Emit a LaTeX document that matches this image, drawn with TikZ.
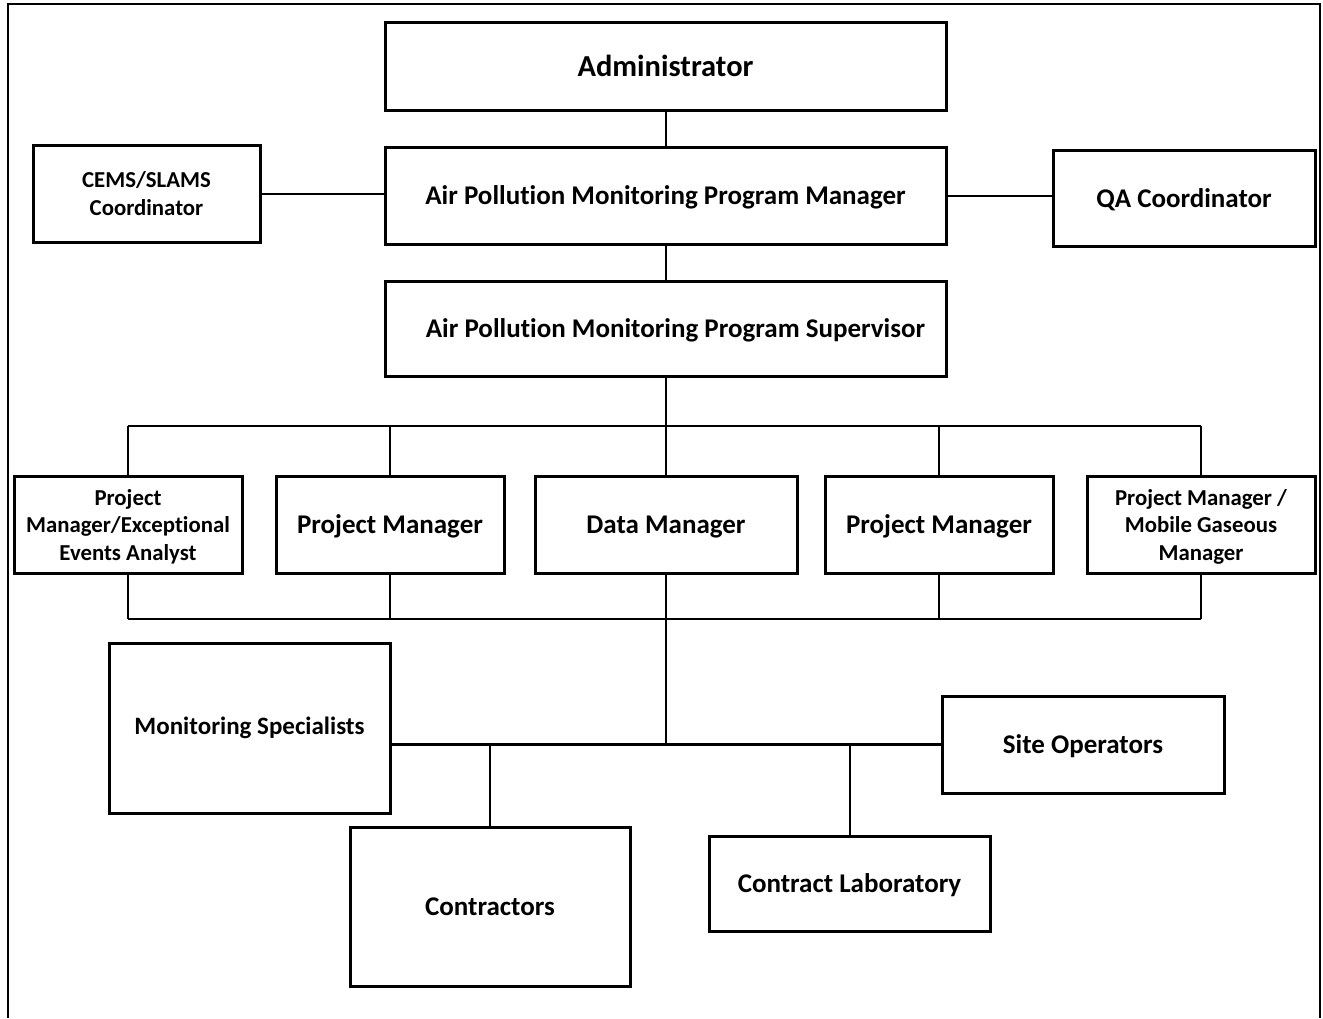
\documentclass[tikz,border=0pt]{standalone}
\usepackage{fontspec}
\setmainfont{Carlito}[Ligatures={NoCommon}]
\begin{document}
\begin{tikzpicture}[x=1pt,y=-1pt,
  box/.style={draw, line width=3pt, inner sep=0pt, align=center, text depth=0pt},
  big/.style={font=\bfseries\fontsize{27}{31}\selectfont},
  mid/.style={font=\bfseries\fontsize{25}{29}\selectfont},
  small/.style={font=\bfseries\fontsize{22.8}{27.5}\selectfont},
  conn/.style={line width=2pt},
  busl/.style={line width=3pt}]
\useasboundingbox (0,0) rectangle (1323,1018);
\draw[line width=2.5pt] (8,1018) -- (8,4) -- (1320,4) -- (1320,1018);

\node[box,font=\bfseries\fontsize{30.5}{34}\selectfont,minimum width=561,minimum height=88] (adm) at (665.5,66) {Administrator};
\node[box,big,minimum width=561,minimum height=97] (mgr) at (665.5,195.5) {Air Pollution Monitoring Program Manager};
\node[box,small,minimum width=227,minimum height=97] (cems) at (146.5,193.5) {CEMS/SLAMS\\Coordinator};
\node[box,big,minimum width=262,minimum height=96] (qa) at (1184,198) {QA Coordinator};
\node[box,big,minimum width=561,minimum height=95] (sup) at (665.5,328.5) {\hspace*{20pt}Air Pollution Monitoring Program Supervisor};

\node[box,small,minimum width=228,minimum height=97] (pme) at (128,524.5) {Project\\Manager/Exceptional\\Events Analyst};
\node[box,big,minimum width=228,minimum height=97] (pm1) at (390,524.5) {Project Manager};
\node[box,big,minimum width=262,minimum height=97] (dm) at (666,524.5) {Data Manager};
\node[box,big,minimum width=228,minimum height=97] (pm2) at (939,524.5) {Project Manager};
\node[box,small,minimum width=228,minimum height=97] (pmm) at (1201,524.5) {Project Manager /\\Mobile Gaseous\\Manager};

\node[box,mid,minimum width=281,minimum height=170,text depth=] (ms) at (249.5,728) {\raisebox{4pt}{Monitoring Specialists}};
\node[box,big,minimum width=282,minimum height=97] (so) at (1083,744.5) {Site Operators};
\node[box,big,minimum width=280,minimum height=159] (con) at (490,906.5) {Contractors};
\node[box,big,minimum width=281,minimum height=95] (cl) at (849.5,883.5) {Contract Laboratory};

\coordinate (tbus) at (665.5,426);
\coordinate (bbus) at (665.5,619);
\coordinate (hub) at (665.5,744.5);

\draw[conn] (adm.south) -- (mgr.north);
\draw[conn] (cems.east) -- (cems.east -| mgr.west);
\draw[conn] (mgr.east) -- (mgr.east -| qa.west);
\draw[conn] (mgr.south) -- (sup.north);
\draw[conn] (sup.south) -- (tbus);
\draw[conn] (pme.north |- tbus) -- (pmm.north |- tbus);
\foreach \n in {pme,pm1,dm,pm2,pmm} {
  \draw[conn] (\n.north) -- (\n.north |- tbus);
  \draw[conn] (\n.south) -- (\n.south |- bbus);
}
\draw[conn] (pme.south |- bbus) -- (pmm.south |- bbus);
\draw[conn] (bbus) -- (hub);
\draw[busl] (ms.east |- hub) -- (so.west);
\draw[conn] (con.north) -- (con.north |- hub);
\draw[conn] (cl.north) -- (cl.north |- hub);
\end{tikzpicture}
\end{document}
